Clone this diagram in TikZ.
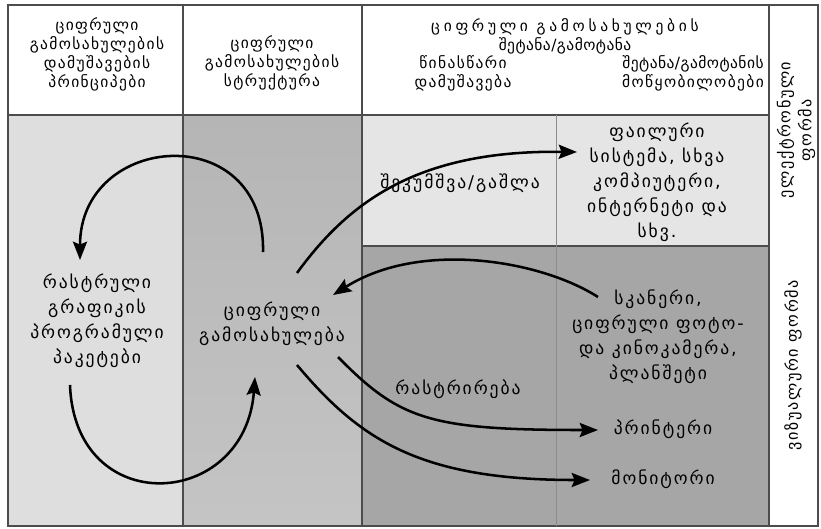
\documentclass[tikz,border=0pt]{standalone}
\usepackage{fontspec}
\setmainfont{DejaVu Sans}
\usetikzlibrary{arrows.meta}

\tikzset{
  grid/.style={draw=black!70, line width=1.1pt},
  head/.style={align=center, font=\fontsize{11}{13.5}\selectfont\addfontfeature{LetterSpace=9}},
  txt/.style={align=center, font=\fontsize{12.5}{17.8}\selectfont\addfontfeature{LetterSpace=11}},
  side/.style={align=center, font=\fontsize{11.5}{15}\selectfont\addfontfeature{LetterSpace=10}},
  flow/.style={line width=1.8pt, -{Stealth[length=13pt,width=10pt,inset=2pt]}},
}
\newcommand{\wide}{\addfontfeature{LetterSpace=24}}
\newcommand{\tight}{\addfontfeature{LetterSpace=3}}

\begin{document}
\begin{tikzpicture}[x=0.025cm,y=-0.025cm]
\useasboundingbox (0,0) rectangle (821,528);

% cells
\fill[black!13] (8,115) rectangle (183,526);
\shade[top color=black!29,bottom color=black!23] (183,115) rectangle (362,526);
\fill[black!10] (362,115) rectangle (769,246);
\fill[black!35] (362,246) rectangle (769,526);

% table lines
\draw[grid] (8,5) rectangle (818,526);
\draw[grid] (183,5) -- (183,526);
\draw[grid] (362,5) -- (362,526);
\draw[grid] (769,5) -- (769,526);
\draw[grid] (8,115) -- (769,115);
\draw[grid] (362,246) -- (769,246);
\draw[black!45, line width=0.5pt] (556,115) -- (556,526);

% headings
\node[head] (prin) at (97,54) {ციფრული\\გამოსახულების\\დამუშავების\\პრინციპები};
\node[head] (struct) at (272,63) {ციფრული\\გამოსახულების\\სტრუქტურა};
\node[head] (inout) at (565,36) {{\wide ციფრული გამოსახულების}\\{\tight შეტანა/გამოტანა}};
\node[head] (prep) at (463,73) {წინასწარი\\დამუშავება};
\node[head] (dev) at (693,73) {{\tight შეტანა/გამოტანის}\\მოწყობილობები};

% cell texts
\node[txt] (pack) at (97,321) {რასტრული\\გრაფიკის\\პროგრამული\\პაკეტები};
\node[txt] (img) at (272,324) {ციფრული\\გამოსახულება};
\node[txt] (zip) at (460,183) {შეკუმშვა/გაშლა};
\node[txt] (files) at (657,182) {ფაილური\\სისტემა, სხვა\\კომპიუტერი,\\ინტერნეტი და\\სხვ.};
\node[txt] (scan) at (658,337) {სკანერი,\\ციფრული ფოტო-\\და კინოკამერა,\\პლანშეტი};
\node[txt] (rast) at (458,389) {რასტრირება};
\node[txt] (prn) at (663,429) {პრინტერი};
\node[txt] (mon) at (663,479) {მონიტორი};

\node[side, rotate=90] (elec) at (796,130) {ელექტრონული\\ფორმა};
\node[side, rotate=90] (vis) at (793,365) {ვიზუალური ფორმა};

% arrow ends
\coordinate (imgtop) at (263,252);
\coordinate (packtop) at (80,260);
\coordinate (packbot) at (70,385);
\coordinate (imgbot) at (255,377);
\coordinate (imgne) at (297,273);
\coordinate (filesw) at (577,152);
\coordinate (scanw) at (598,297);
\coordinate (imge) at (333,295);
\coordinate (imgse) at (338,357);
\coordinate (prnw) at (598,430);
\coordinate (imgs) at (297,365);
\coordinate (monw) at (590,480);

% arrows
\draw[flow] (imgtop) .. controls (266,118) and (80,132) .. (packtop);
\draw[flow] (packbot) .. controls (75,520) and (245,510) .. (imgbot);
\draw[flow] (imgne) .. controls (350,200) and (420,150) .. (filesw);
\draw[flow] (scanw) .. controls (540,260) and (420,240) .. (imge);
\draw[flow] (imgse) .. controls (400,420) and (430,430) .. (prnw);
\draw[flow] (imgs) .. controls (360,440) and (420,480) .. (monw);

\end{tikzpicture}
\end{document}
